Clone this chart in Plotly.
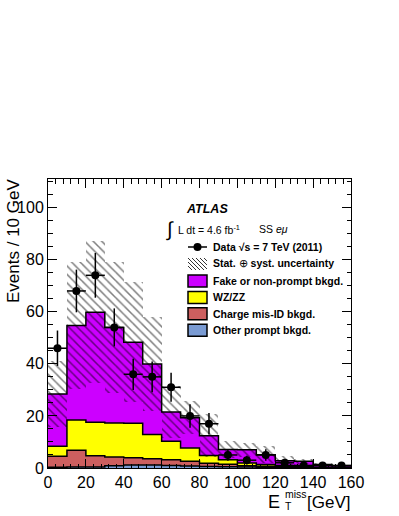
import plotly.graph_objects as go

# binning (GeV)
bin_low = [0, 10, 20, 30, 40, 50, 60, 70, 80, 90, 100, 110, 120, 130, 140, 150]
bin_width = 10

# background components (events / 10 GeV)
other_prompt = [0.3, 0.4, 0.4, 0.9, 1.2, 1.2, 1.0, 0.8, 0.6, 0.5, 0.4, 0.3, 0.2, 0.2, 0.1, 0.05]
charge_misid = [4.2, 6.4, 4.3, 3.3, 2.7, 2.4, 2.2, 1.8, 1.2, 0.9, 0.5, 0.4, 0.3, 0.1, 0.1, 0.05]
wz_zz = [3.9, 11.6, 12.9, 13.1, 13.3, 9.3, 7.1, 5.1, 3.0, 1.8, 1.0, 0.6, 0.5, 0.3, 0.1, 0.1]
fake = [20.0, 36.3, 42.2, 36.7, 31.1, 27.0, 11.2, 11.6, 7.6, 3.9, 5.1, 3.8, 1.8, 2.0, 1.0, 0.2]
bkg_unc = [12.6, 24.4, 27.3, 25.0, 23.1, 18.0, 10.0, 6.4, 8.2, 3.2, 2.7, 3.2, 1.7, 1.0, 0.7, 0.6]

# data
data = [46, 68, 74, 54, 36, 35, 31, 20, 17, 5, 3, 5, 2, 1, 1, 1]
data_err = [6.8, 8.2, 8.6, 7.3, 6.0, 5.9, 5.6, 4.5, 4.1, 2.2, 1.7, 2.2, 1.4, 1.0, 1.0, 1.0]

components = [
    ("Other prompt bkgd.", other_prompt, "#7a9bd3"),
    ("Charge mis-ID bkgd.", charge_misid, "#cd5f5f"),
    ("WZ/ZZ", wz_zz, "#ffff00"),
    ("Fake or non-prompt bkgd.", fake, "#cc00ff"),
]

centers = [lo + bin_width / 2 for lo in bin_low]
x_edges = bin_low + [bin_low[-1] + bin_width]

FONT = "Liberation Sans, Arial, Helvetica, sans-serif"

fig = go.Figure()

# stacked fills
base = [0.0] * len(bin_low)
tops = []
for name, vals, col in components:
    fig.add_trace(go.Bar(x=centers, y=vals, base=list(base), width=bin_width,
                         marker=dict(color=col, line=dict(width=0)), name=name))
    base = [b + v for b, v in zip(base, vals)]
    tops.append(list(base))
total = base

# stat+syst band
fig.add_trace(go.Bar(
    x=centers, y=[2 * u for u in bkg_unc], base=[t - u for t, u in zip(total, bkg_unc)],
    width=bin_width,
    marker=dict(color="rgba(0,0,0,0)", line=dict(width=0),
                pattern=dict(shape="\\", size=6, solidity=0.25,
                             fgcolor="#000000", bgcolor="rgba(0,0,0,0)",
                             fillmode="overlay")),
))

# step outlines of the stack
for t in tops:
    fig.add_trace(go.Scatter(x=x_edges, y=t + [t[-1]], mode="lines",
                             line=dict(color="black", width=1.5, shape="hv"),
                             hoverinfo="skip"))

# data points
fig.add_trace(go.Scatter(
    x=centers, y=data, mode="markers",
    marker=dict(color="black", size=8),
    error_y=dict(type="data", array=data_err, color="black", thickness=1.5, width=0),
    error_x=dict(type="constant", value=bin_width / 2, color="black", thickness=1.5, width=0),
))


def px(xp):
    return (xp - 48) / 303


def py(yp):
    return (468 - yp) / 289


annotations = []
shapes = []


def label(text, x, y, size, xanchor="left", yanchor="middle", **kw):
    annotations.append(dict(text=text, x=px(x), y=py(y), xref="paper", yref="paper",
                            xanchor=xanchor, yanchor=yanchor, showarrow=False,
                            font=dict(family=FONT, size=size, color="black"), **kw))


# axis titles
label("Events / 10 GeV", 13, 241, 17, xanchor="center", textangle=-90)
label("[GeV]", 352, 502, 17, xanchor="right")
label("E", 282, 502, 18, xanchor="right")
label("miss", 283, 494, 10.5)
label("T", 283, 506, 10.5)

# ATLAS label
label("<b><i>ATLAS</i></b>", 184, 209, 12.5)
label("\u222b", 164, 229, 20)
label("L dt = 4.6 fb<sup>-1</sup>", 176, 229, 10.5)
label("SS <i>e\u03bc</i>", 257, 229, 10.5)

# legend
leg_x0, leg_x1 = 188, 207
shapes.append(dict(type="line", xref="paper", yref="paper", x0=px(leg_x0), x1=px(leg_x1),
                   y0=py(247), y1=py(247), line=dict(color="black", width=1.5)))
shapes.append(dict(type="circle", xref="paper", yref="paper", x0=px(193.5), x1=px(201.5),
                   y0=py(243), y1=py(251), fillcolor="black", line=dict(color="black", width=0)))
label("<b>Data \u221as = 7 TeV (2011)</b>", 211, 247, 10.5)

# hatch swatch
hx0, hx1, hy0, hy1 = leg_x0, leg_x1, 258, 270
segs = []
c = hx0 - (hy1 - hy0)
while c < hx1:
    xa, ya = c, hy0
    xb, yb = c + (hy1 - hy0), hy1
    if xa < hx0:
        ya += hx0 - xa
        xa = hx0
    if xb > hx1:
        yb -= xb - hx1
        xb = hx1
    if xb > xa:
        segs.append(f"M{px(xa)},{py(ya)} L{px(xb)},{py(yb)}")
    c += 4
shapes.append(dict(type="path", xref="paper", yref="paper", path=" ".join(segs),
                   line=dict(color="#333333", width=1)))
label("<b>Stat. </b>\u2295<b> syst. uncertainty</b>", 211, 263, 10.5)

for i, (name, vals, col) in enumerate(reversed(components)):
    y0 = 275 + i * 16.4
    shapes.append(dict(type="rect", xref="paper", yref="paper", x0=px(leg_x0), x1=px(leg_x1),
                       y0=py(y0), y1=py(y0 + 12), fillcolor=col,
                       line=dict(color="black", width=1.5)))
    label(f"<b>{name}</b>", 211, y0 + 6, 10.5)

axis_common = dict(
    ticks="inside", ticklen=9, tickwidth=1, tickcolor="black",
    showline=True, linecolor="black", linewidth=1, mirror="allticks",
    showgrid=False, zeroline=False,
    tickfont=dict(family=FONT, size=16, color="black"),
)

fig.update_layout(
    width=399, height=516,
    margin=dict(l=48, r=48, t=179, b=48),
    plot_bgcolor="white", paper_bgcolor="white",
    barmode="overlay", bargap=0,
    showlegend=False,
    xaxis=dict(range=[0, 160], tick0=0, dtick=20,
               minor=dict(dtick=4, ticklen=4.5, ticks="inside", tickcolor="black"),
               **axis_common),
    yaxis=dict(range=[0, 111], tick0=0, dtick=20,
               minor=dict(dtick=5, ticklen=4.5, ticks="inside", tickcolor="black"),
               **axis_common),
    annotations=annotations,
    shapes=shapes,
)

# the page's default body margin would shift the figure by 8 px
fig.write_html("out.html", config={"displayModeBar": False},
               post_script="document.body.style.margin='0';")
